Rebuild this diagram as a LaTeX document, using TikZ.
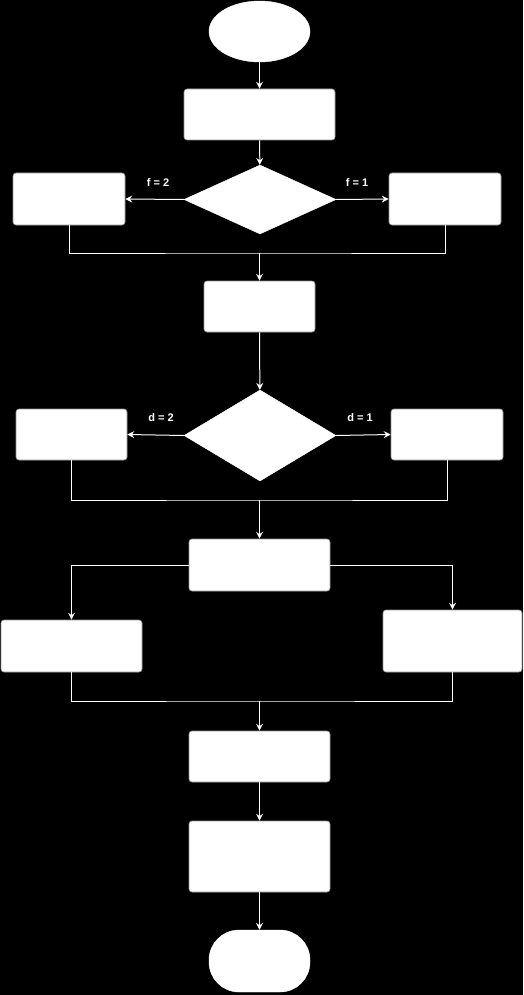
\documentclass[tikz,border=0pt]{standalone}
\usepackage{fontspec}
\setmainfont{Liberation Sans}
\usetikzlibrary{arrows.meta}
\usetikzlibrary{shapes.geometric}
\tikzset{>={Stealth[length=7pt,width=7pt,inset=2.5pt]}}
\definecolor{chartedge}{RGB}{150,150,150}
\tikzstyle{flowline}=[draw=white,line width=1pt]
\tikzstyle{flowarrow}=[flowline,->]
\tikzstyle{procbox}=[fill=white,draw=chartedge,line width=0.6pt,rounded corners=3pt,inner sep=0pt]
\tikzstyle{decbox}=[diamond,fill=white,draw=white,inner sep=0pt]
\tikzstyle{termbox}=[fill=white,draw=white,inner sep=0pt]
\tikzstyle{condlabel}=[text=white,font=\bfseries\fontsize{11}{13}\selectfont]

\begin{document}
\begin{tikzpicture}[x=1pt,y=-1pt]
    \fill[black] (0,0) rectangle (523,995);
    \useasboundingbox (0,0) rectangle (523,995);

    % start and first step
    \node[termbox,ellipse,minimum width=101pt,minimum height=61pt] (start) at (259.5,31.5) {};
    \node[procbox,minimum width=151pt,minimum height=51pt] (read) at (259.5,114.5) {};
    \node[decbox,minimum width=152pt,minimum height=69pt] (askf) at (260,199.5) {};
    \node[procbox,minimum width=112pt,minimum height=52pt] (ftwo) at (69,199) {};
    \node[procbox,minimum width=112pt,minimum height=52pt] (fone) at (445,199) {};
    \node[condlabel] (lbfa) at (158,183) {f = 2};
    \node[condlabel] (lbfb) at (357,183) {f = 1};
    \coordinate (joinf) at (259.5,253);

    % second choice
    \node[procbox,minimum width=111pt,minimum height=51pt] (calc) at (259.5,306.5) {};
    \node[decbox,minimum width=152pt,minimum height=91pt] (askd) at (260,435.5) {};
    \node[procbox,minimum width=111pt,minimum height=51pt] (dtwo) at (71.5,434.5) {};
    \node[procbox,minimum width=112pt,minimum height=51pt] (done) at (447,434.5) {};
    \node[condlabel] (lbda) at (161,418) {d = 2};
    \node[condlabel] (lbdb) at (360,418) {d = 1};
    \coordinate (joind) at (259.5,500);

    % split and end
    \node[procbox,minimum width=141pt,minimum height=52pt] (split) at (259.5,565) {};
    \node[procbox,minimum width=141pt,minimum height=52pt] (pleft) at (71.5,646) {};
    \node[procbox,minimum width=139pt,minimum height=62pt] (pright) at (452.5,641) {};
    \coordinate (joinp) at (259.5,701);
    \node[procbox,minimum width=141pt,minimum height=51pt] (sum) at (259.5,756.5) {};
    \node[procbox,minimum width=141pt,minimum height=71pt] (show) at (259.5,856.5) {};
    \node[termbox,rounded corners=30pt,minimum width=101pt,minimum height=62pt] (stop) at (259.5,961) {};

    \draw[flowarrow] (start) -- (read);
    \draw[flowarrow] (read) -- (askf);
    \draw[flowarrow] (askf.west) -- (ftwo.east);
    \draw[flowarrow] (askf.east) -- (fone.west);
    \draw[flowline] (ftwo.south) |- (joinf) -| (fone.south);
    \draw[flowarrow] (joinf) -- (calc);
    \draw[flowarrow] (calc) -- (askd);
    \draw[flowarrow] (askd.west) -- (dtwo.east);
    \draw[flowarrow] (askd.east) -- (done.west);
    \draw[flowline] (dtwo.south) |- (joind) -| (done.south);
    \draw[flowarrow] (joind) -- (split);
    \draw[flowarrow] (split.west) -| (pleft.north);
    \draw[flowarrow] (split.east) -| (pright.north);
    \draw[flowline] (pleft.south) |- (joinp) -| (pright.south);
    \draw[flowarrow] (joinp) -- (sum);
    \draw[flowarrow] (sum) -- (show);
    \draw[flowarrow] (show) -- (stop);
  \end{tikzpicture}
\end{document}
